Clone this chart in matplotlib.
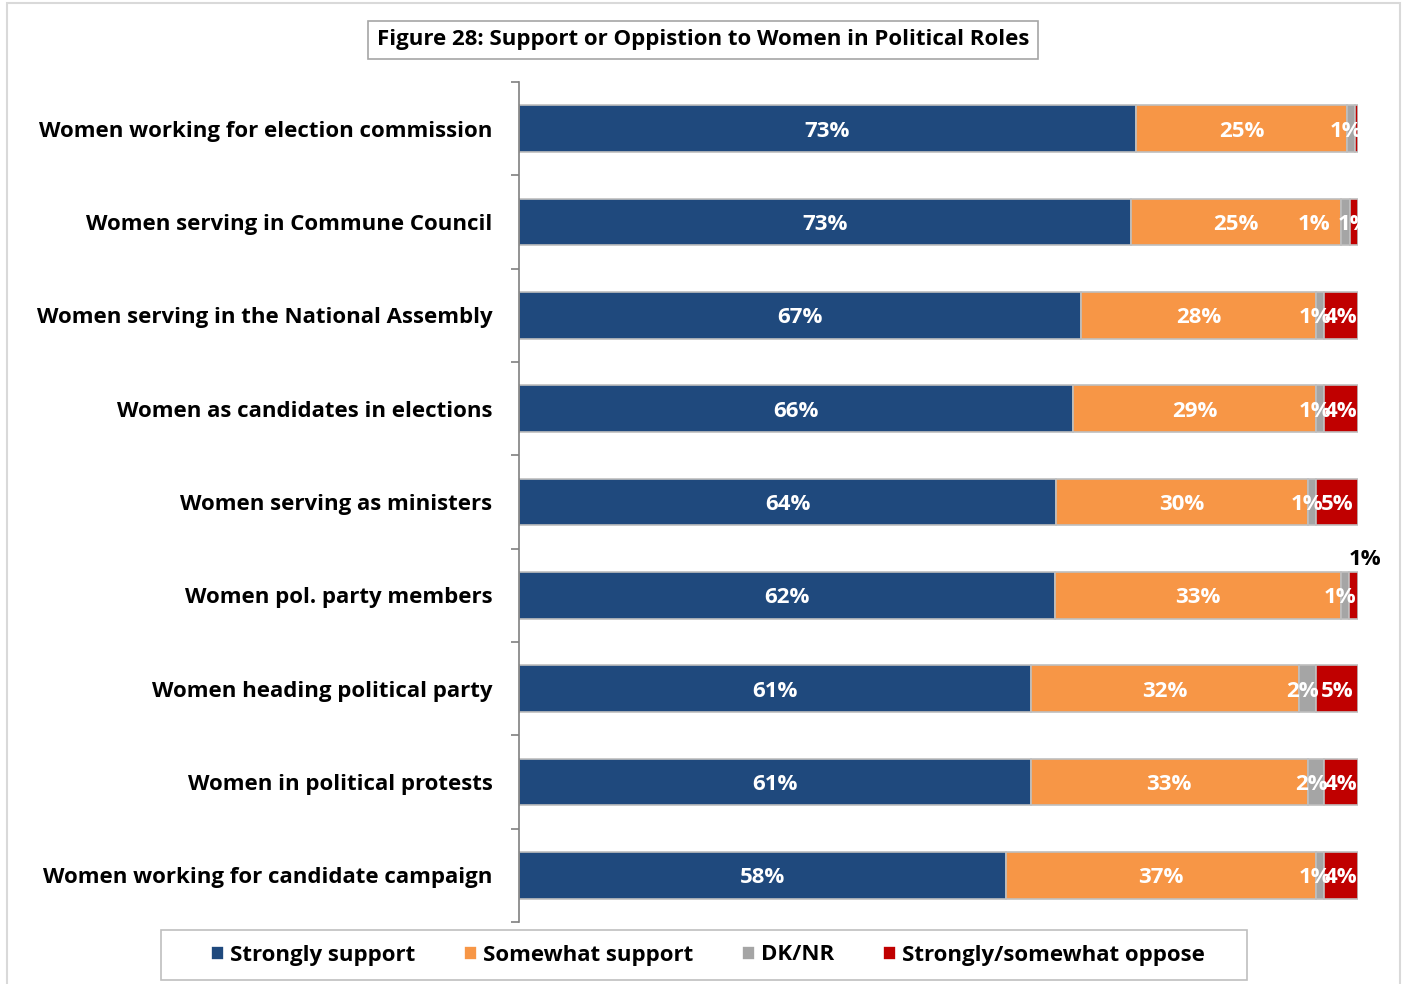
import matplotlib
matplotlib.use("Agg")
import matplotlib.pyplot as plt
from matplotlib.patches import Rectangle
import numpy as np

plt.rcParams['font.family'] = ['Open Sans', 'DejaVu Sans']

categories = [
    "Women working for election commission",
    "Women serving in Commune Council",
    "Women serving in the National Assembly",
    "Women as candidates in elections",
    "Women serving as ministers",
    "Women pol. party members",
    "Women heading political party",
    "Women in political protests",
    "Women working for candidate campaign",
]
series_names = ["Strongly support", "Somewhat support", "DK/NR", "Strongly/somewhat oppose"]
strongly_support = [73, 73, 67, 66, 64, 62, 61, 61, 58]
somewhat_support = [25, 25, 28, 29, 30, 33, 32, 33, 37]
dk_nr = [1, 1, 1, 1, 1, 1, 2, 2, 1]
oppose = [0.3, 1, 4, 4, 5, 1, 5, 4, 4]
oppose_labels = ["", "1%", "4%", "4%", "5%", "1%", "5%", "4%", "4%"]

colors = ["#1F497D", "#F79646", "#A5A5A5", "#C00000"]

W, H = 1406, 984
fig = plt.figure(figsize=(W / 100, H / 100), dpi=100)

# outer chart border
fig.patches.append(Rectangle((7 / W, -0.01), (1400 - 7) / W, 1 - 3 / H + 0.01,
                             transform=fig.transFigure, fill=False,
                             edgecolor="#D9D9D9", linewidth=1.5))

ax = fig.add_axes([519 / W, 1 - 922 / H, (1358 - 519) / W, (922 - 82) / H])

data = np.array([strongly_support, somewhat_support, dk_nr, oppose], dtype=float)
totals = data.sum(axis=0)
shares = data / totals

px = 1 / (1358 - 519)          # one pixel in axis units
grey_nudge = {1: -26}          # extra leftward shift for a crowded grey label

lab_font = dict(fontsize=16, fontweight="bold")
y = np.arange(len(categories))
left = np.zeros(len(categories))
for i, (name, col) in enumerate(zip(series_names, colors)):
    ax.barh(y, shares[i], left=left, height=0.5, color=col,
            edgecolor="#BFBFBF", linewidth=1.2, label=name)
    for j in range(len(categories)):
        if i < 3:
            lab = f"{data[i, j]:.0f}%"
        else:
            lab = oppose_labels[j]
        if not lab:
            continue
        cx = left[j] + shares[i, j] / 2
        if i == 3 and j == 5:
            # small red segment: label sits above the bar end
            ax.text(left[j] + shares[i, j] + 0.008, y[j] - 0.27, lab,
                    ha="center", va="bottom", color="black", clip_on=False, **lab_font)
        elif i == 2:
            ax.text(cx + (grey_nudge.get(j, 0) - 5) * px, y[j], lab, ha="center",
                    va="center_baseline", color="white", clip_on=True, **lab_font)
        else:
            ax.text(cx, y[j], lab, ha="center", va="center_baseline", color="white",
                    clip_on=True, **lab_font)
    left = left + shares[i]

ax.set_xlim(0, 1)
ax.set_ylim(len(categories) - 0.5, -0.5)
ax.set_yticks(y)
ax.set_yticklabels(categories, fontsize=16, fontweight="bold")
ax.set_yticks(np.arange(len(categories) + 1) - 0.5, minor=True)
ax.tick_params(axis="y", which="major", length=0, pad=19)
ax.tick_params(axis="y", which="minor", length=6, color="#808080", width=1.2)
ax.set_xticks([])
for s in ["top", "right", "bottom"]:
    ax.spines[s].set_visible(False)
ax.spines["left"].set_color("#808080")
ax.spines["left"].set_linewidth(1.2)

fig.text(703 / W, 1 - 40 / H, "Figure 28: Support or Oppistion to Women in Political Roles",
         ha="center", va="center", fontsize=16, fontweight="bold",
         bbox=dict(boxstyle="square,pad=0.4", facecolor="white", edgecolor="#A6A6A6", linewidth=1.2))

# legend box
fig.patches.append(Rectangle((161 / W, 1 - 980 / H), (1247 - 161) / W, 50 / H,
                             transform=fig.transFigure, facecolor="white",
                             edgecolor="#BFBFBF", linewidth=1.2))
leg = fig.legend(loc="center", bbox_to_anchor=(708 / W, 1 - 955 / H), ncol=4,
                 frameon=False, prop=dict(size=16, weight="bold"),
                 handlelength=0.6, handleheight=0.6,
                 handletextpad=0.25, columnspacing=2.2, borderpad=0.2, borderaxespad=0)
for h in leg.legend_handles:
    h.set_edgecolor("white")

fig.savefig("out.png", dpi=100)
